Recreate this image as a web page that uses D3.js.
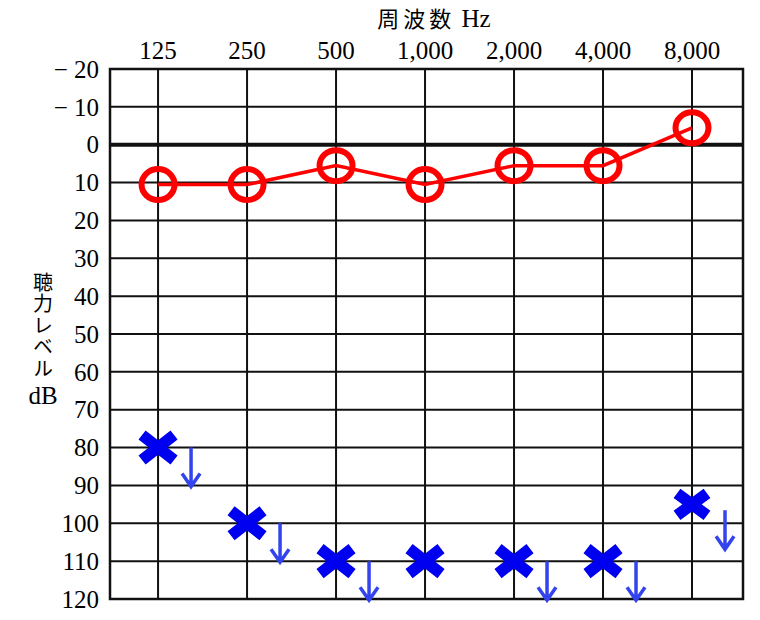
<!DOCTYPE html>
<html>
<head>
<meta charset="utf-8">
<script src="https://cdn.jsdelivr.net/npm/d3@7"></script>
<style>
  body { margin: 0; background: #fff; }
</style>
</head>
<body>
<div id="chart"></div>
<script>
// DATA
const freqs = [125, 250, 500, 1000, 2000, 4000, 8000]
const freqLabels = ["125", "250", "500", "1,000", "2,000", "4,000", "8,000"]
const dbTicks = [-20, -10, 0, 10, 20, 30, 40, 50, 60, 70, 80, 90, 100, 110, 120]
const airRight = [10, 10, 5, 10, 5, 5, -5]          // red circles
const airLeft = [80, 100, 110, 110, 110, 110, 95]   // blue crosses
const noResponse = [true, true, true, false, true, true, true]

const W = 760, H = 620
const LEFT = 110, RIGHT = 743, TOP = 69, BOTTOM = 599
const SERIF = "'Liberation Serif', 'Times New Roman', 'DejaVu Serif', serif"
const JP = "'Noto Sans CJK JP', 'Noto Sans CJK SC', sans-serif"

const svg = d3.select("#chart").append("svg")
  .attr("width", W)
  .attr("height", H)
  .attr("font-family", SERIF)

// x: log2 spaced octaves, some room either side
const x = d3.scaleLog().base(2)
  .domain([125 / Math.pow(2, 0.54), 8000 * Math.pow(2, 0.573)])
  .range([LEFT, RIGHT])

const y = d3.scaleLinear()
  .domain([-20, 120])
  .range([TOP, BOTTOM])

// grid - horizontal
svg.append("g")
  .selectAll("line")
  .data(dbTicks)
  .join("line")
  .attr("x1", LEFT).attr("x2", RIGHT)
  .attr("y1", d => y(d)).attr("y2", d => y(d))
  .attr("stroke", "#111")
  .attr("stroke-width", d => d === 0 ? 4 : 2)

// grid - vertical
svg.append("g")
  .selectAll("line")
  .data(freqs)
  .join("line")
  .attr("x1", d => x(d)).attr("x2", d => x(d))
  .attr("y1", TOP).attr("y2", BOTTOM)
  .attr("stroke", "#111")
  .attr("stroke-width", 2)

// frame
svg.append("rect")
  .attr("x", LEFT).attr("y", TOP)
  .attr("width", RIGHT - LEFT).attr("height", BOTTOM - TOP)
  .attr("fill", "none")
  .attr("stroke", "#111")
  .attr("stroke-width", 2.5)

// y tick labels
svg.append("g")
  .selectAll("text")
  .data(dbTicks)
  .join("text")
  .attr("x", 99)
  .attr("y", d => y(d))
  .attr("dy", "0.35em")
  .attr("text-anchor", "end")
  .attr("font-size", 25)
  .attr("fill", "#000")
  .text(d => d < 0 ? "\u2212 " + Math.abs(d) : d)

// x tick labels on top
svg.append("g")
  .selectAll("text")
  .data(freqs)
  .join("text")
  .attr("x", d => x(d))
  .attr("y", 59)
  .attr("text-anchor", "middle")
  .attr("font-size", 25)
  .attr("fill", "#000")
  .text((d, i) => freqLabels[i])

// titles
const xt = svg.append("text")
  .attr("x", 434).attr("y", 27)
  .attr("text-anchor", "middle")
  .attr("font-size", 25)
  .attr("fill", "#000")
xt.append("tspan").attr("font-family", JP).attr("font-size", 22).attr("letter-spacing", 4).text("周波数")
xt.append("tspan").text(" Hz")

// vertical y title
svg.append("text")
  .attr("x", 43)
  .attr("y", 272)
  .attr("font-family", JP)
  .attr("font-size", 20)
  .attr("fill", "#000")
  .style("writing-mode", "vertical-rl")
  .style("letter-spacing", "1.5px")
  .text("聴力レベル")

svg.append("text")
  .attr("x", 43)
  .attr("y", 395)
  .attr("dy", "0.35em")
  .attr("text-anchor", "middle")
  .attr("font-size", 25)
  .attr("fill", "#000")
  .text("dB")

// red line + circles
const rightPts = freqs.map((f, i) => [x(f), y(airRight[i]) + 2])
svg.append("path")
  .attr("d", d3.line()(rightPts))
  .attr("fill", "none")
  .attr("stroke", "#ff0000")
  .attr("stroke-width", 3.5)

svg.append("g")
  .selectAll("ellipse")
  .data(rightPts)
  .join("ellipse")
  .attr("cx", d => d[0]).attr("cy", d => d[1])
  .attr("rx", 16.5).attr("ry", 15.5)
  .attr("fill", "none")
  .attr("stroke", "#ff0000")
  .attr("stroke-width", 6)

// blue crosses
const leftPts = freqs.map((f, i) => ({ x: x(f), y: y(airLeft[i]), nr: noResponse[i], small: airLeft[i] % 10 !== 0 }))
svg.append("g")
  .selectAll("path")
  .data(leftPts)
  .join("path")
  .attr("d", d => {
    const dx = d.small ? 15 : 16, dy = d.small ? 11 : 12.5
    return `M${d.x - dx},${d.y - dy}L${d.x + dx},${d.y + dy}M${d.x - dx},${d.y + dy}L${d.x + dx},${d.y - dy}`
  })
  .attr("stroke", "#0000f0")
  .attr("stroke-width", 11.5)
  .attr("fill", "none")

// no-response arrows
svg.append("g")
  .selectAll("path")
  .data(leftPts.filter(d => d.nr))
  .join("path")
  .attr("d", d => {
    const ax = d.x + 33, y0 = d.y + (d.small ? 6 : 0), y1 = y0 + 39
    return `M${ax},${y0}V${y1}M${ax - 9},${y1 - 13}L${ax},${y1}L${ax + 9},${y1 - 13}`
  })
  .attr("stroke", "#3344ee")
  .attr("stroke-width", 3.5)
  .attr("fill", "none")
</script>
</body>
</html>
